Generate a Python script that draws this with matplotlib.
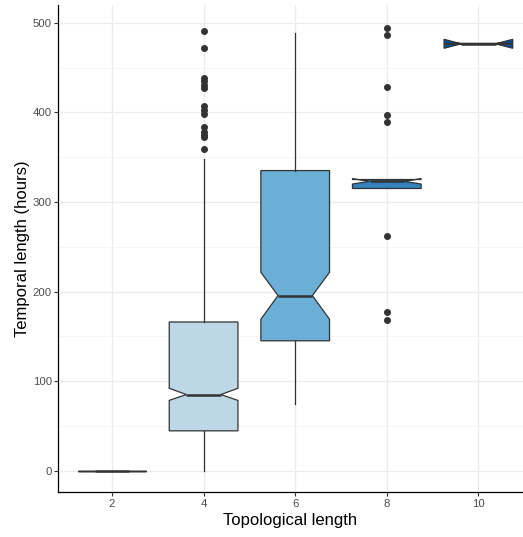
import matplotlib
matplotlib.use("Agg")
import matplotlib.pyplot as plt
from matplotlib.ticker import MultipleLocator

plt.rcParams["font.family"] = ["Liberation Sans", "DejaVu Sans"]

# данные: категории и статистики ящиков
categories = ["2", "4", "6", "8", "10"]
q1 = [0, 44.5, 145, 315, 476]
med = [0, 85, 195.5, 323, 476.5]
q3 = [0, 166, 335, 325, 477]
whis_lo = [0, 0, 75, 315, 476]
whis_hi = [0, 347.5, 489, 325, 477]
ci_lo = [0, 78.5, 169, 320, 471.5]
ci_hi = [0, 92, 221.5, 326, 481.5]
fliers = [
    [],
    [490.7, 471.4, 438.5, 435.5, 430, 427, 407, 402.5, 397.8, 384, 377.7, 375, 372, 359.5],
    [],
    [494.4, 485.9, 428.2, 397, 388.8, 262.3, 176.8, 168.2],
    [],
]
colors = ["#EFF3FF", "#BDD7E7", "#6BAED6", "#3182BD", "#08519C"]

stats = []
for i in range(len(categories)):
    stats.append(dict(med=med[i], q1=q1[i], q3=q3[i], whislo=whis_lo[i], whishi=whis_hi[i],
                      cilo=ci_lo[i], cihi=ci_hi[i], fliers=fliers[i], label=categories[i]))

fig = plt.figure(figsize=(5.23, 5.37), dpi=100)
ax = fig.add_axes([58 / 523, 1 - 492.3 / 537, 465 / 523, 487.3 / 537])

pos = list(range(1, len(categories) + 1))
bp = ax.bxp(stats, positions=pos, widths=0.75, shownotches=True, patch_artist=True, showcaps=False,
            boxprops=dict(edgecolor="#333333", linewidth=0.9),
            whiskerprops=dict(color="#333333", linewidth=0.9),
            medianprops=dict(color="#333333", linewidth=1.8),
            flierprops=dict(marker="o", markersize=4, markerfacecolor="#333333",
                            markeredgecolor="#333333"))
for patch, c in zip(bp["boxes"], colors):
    patch.set_facecolor(c)

ax.set_xlim(0.4105, 5.487)
ax.set_ylim(-24.1, 519.8)
ax.set_xticks(pos)
ax.set_xticklabels(categories)
ax.yaxis.set_major_locator(MultipleLocator(100))
ax.yaxis.set_minor_locator(MultipleLocator(50))

ax.grid(True, which="major", color="#EBEBEB", linewidth=0.9)
ax.grid(True, which="minor", axis="y", color="#F4F4F4", linewidth=0.6)
ax.set_axisbelow(True)

for s in ["top", "right"]:
    ax.spines[s].set_visible(False)
for s in ["left", "bottom"]:
    ax.spines[s].set_color("black")
    ax.spines[s].set_linewidth(0.9)

ax.tick_params(axis="both", which="major", length=3, width=0.8, color="#333333",
               labelcolor="#4D4D4D", labelsize=8.2, pad=1.5)
ax.tick_params(axis="y", which="minor", length=0)

ax.set_xlabel("Topological length", fontsize=12, color="black", labelpad=3)
ax.set_ylabel("Temporal length (hours)", fontsize=12, color="black", labelpad=2)

fig.savefig("out.png", dpi=100)
